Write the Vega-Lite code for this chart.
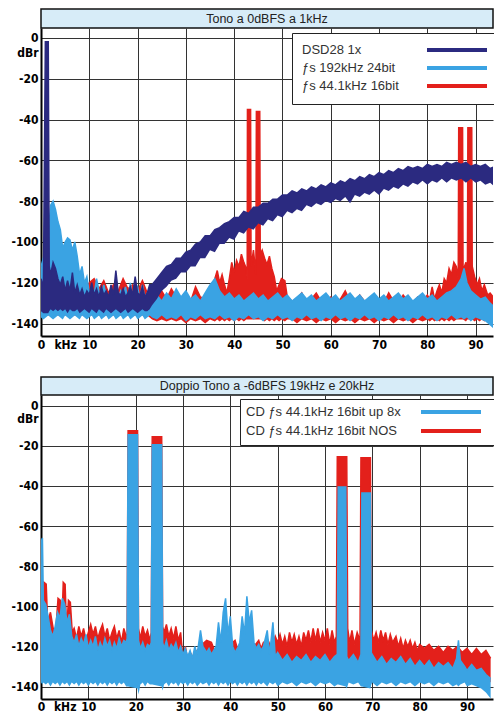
{
  "$schema": "https://vega.github.io/schema/vega-lite/v6.json",
  "background": "white",
  "padding": {"left": 0, "top": 8, "right": 0, "bottom": 0},
  "config": {
    "view": {"stroke": null},
    "axis": {"domainColor": "black", "domainWidth": 2, "ticks": false, "grid": true, "gridColor": "#333", "gridWidth": 1, "labelFont": "DejaVu Sans Condensed", "labelFontWeight": "bold", "labelFontSize": 12, "labelColor": "black", "title": null, "labelOverlap": false, "labelFlush": false},
    "legend": {"orient": "none", "title": null, "symbolType": "M-6,0H6", "symbolSize": 100, "symbolStrokeWidth": 4, "fillColor": "white", "strokeColor": "#222", "labelFont": "Liberation Sans", "labelFontSize": 13, "labelColor": "#333", "labelLimit": 400}
  },
  "datasets": {
    "topN": [
      {"f":0,"hi":-118,"lo":-134},{"f":0.5,"hi":-122,"lo":-135},{"f":0.9,"hi":-1.8,"lo":-135},{"f":1.5,"hi":-1.8,"lo":-135},{"f":1.7,"hi":-112,"lo":-134},{"f":2,"hi":-116,"lo":-133},{"f":2.5,"hi":-110,"lo":-134},{"f":3,"hi":-113,"lo":-133},{"f":3.5,"hi":-118,"lo":-134},{"f":4,"hi":-121,"lo":-133},{"f":4.5,"hi":-117,"lo":-134},{"f":5,"hi":-124,"lo":-133},{"f":5.5,"hi":-119,"lo":-135},{"f":6,"hi":-124,"lo":-133},{"f":6.5,"hi":-115,"lo":-134},{"f":7,"hi":-125,"lo":-134},{"f":7.5,"hi":-121,"lo":-133},{"f":8,"hi":-126,"lo":-135},{"f":8.5,"hi":-123,"lo":-134},{"f":9,"hi":-127,"lo":-133},{"f":9.5,"hi":-124,"lo":-134},{"f":10,"hi":-126,"lo":-135},{"f":10.5,"hi":-120,"lo":-133},{"f":11,"hi":-126,"lo":-134},{"f":11.5,"hi":-123,"lo":-135},{"f":12,"hi":-127,"lo":-133},{"f":12.5,"hi":-122,"lo":-134},{"f":13,"hi":-126,"lo":-135},{"f":13.5,"hi":-124,"lo":-133},{"f":14,"hi":-127,"lo":-134},{"f":14.5,"hi":-121,"lo":-135},{"f":15,"hi":-126,"lo":-134},{"f":15.5,"hi":-114,"lo":-133},{"f":16,"hi":-125,"lo":-134},{"f":16.5,"hi":-126,"lo":-135},{"f":17,"hi":-123,"lo":-134},{"f":17.5,"hi":-127,"lo":-133},{"f":18,"hi":-125,"lo":-135},{"f":18.5,"hi":-122,"lo":-134},{"f":19,"hi":-126,"lo":-133},{"f":19.5,"hi":-117,"lo":-134},{"f":20,"hi":-125,"lo":-135},{"f":20.5,"hi":-126,"lo":-134},{"f":21,"hi":-122,"lo":-133},{"f":21.5,"hi":-127,"lo":-134},{"f":22,"hi":-125,"lo":-134},{"f":22.5,"hi":-121,"lo":-133},
      {"f":23,"hi":-121,"lo":-131},{"f":24,"hi":-118,"lo":-128},{"f":25,"hi":-115,"lo":-124},{"f":26,"hi":-112,"lo":-122},{"f":27,"hi":-111,"lo":-119},{"f":28,"hi":-108,"lo":-118},{"f":29,"hi":-108,"lo":-115},{"f":30,"hi":-105,"lo":-115},{"f":31,"hi":-104,"lo":-112},{"f":32,"hi":-101,"lo":-112},{"f":33,"hi":-100,"lo":-108},{"f":34,"hi":-97,"lo":-108},{"f":35,"hi":-97,"lo":-104},{"f":36,"hi":-94,"lo":-105},{"f":37,"hi":-93,"lo":-101},{"f":38,"hi":-91,"lo":-101},{"f":39,"hi":-90,"lo":-98},{"f":40,"hi":-88,"lo":-99},{"f":41,"hi":-88,"lo":-95},{"f":42,"hi":-85,"lo":-96},{"f":43,"hi":-86,"lo":-93},{"f":44,"hi":-83,"lo":-94},{"f":45,"hi":-83,"lo":-91},{"f":46,"hi":-81,"lo":-92},{"f":47,"hi":-81,"lo":-89},{"f":48,"hi":-79,"lo":-90},{"f":49,"hi":-79,"lo":-87},{"f":50,"hi":-77,"lo":-88},{"f":51,"hi":-77,"lo":-85},{"f":52,"hi":-75,"lo":-86},{"f":53,"hi":-76,"lo":-84},{"f":54,"hi":-74,"lo":-85},{"f":55,"hi":-75,"lo":-82},{"f":56,"hi":-73,"lo":-83},{"f":57,"hi":-74,"lo":-81},{"f":58,"hi":-72,"lo":-82},{"f":59,"hi":-73,"lo":-80},{"f":60,"hi":-71,"lo":-81},{"f":61,"hi":-72,"lo":-79},{"f":62,"hi":-70,"lo":-80},{"f":63,"hi":-71,"lo":-78},{"f":64,"hi":-69,"lo":-81},{"f":65,"hi":-70,"lo":-77},{"f":66,"hi":-68,"lo":-78},{"f":67,"hi":-69,"lo":-76},{"f":68,"hi":-67,"lo":-77},{"f":69,"hi":-68,"lo":-75},{"f":70,"hi":-66,"lo":-77},{"f":71,"hi":-67,"lo":-74},{"f":72,"hi":-65,"lo":-75},{"f":73,"hi":-66,"lo":-73},{"f":74,"hi":-64,"lo":-74},{"f":75,"hi":-65,"lo":-72},{"f":76,"hi":-63,"lo":-73},{"f":77,"hi":-64,"lo":-71},{"f":78,"hi":-63,"lo":-72},{"f":79,"hi":-64,"lo":-70},{"f":80,"hi":-62,"lo":-72},{"f":81,"hi":-63,"lo":-70},{"f":82,"hi":-62,"lo":-71},{"f":83,"hi":-63,"lo":-69},{"f":84,"hi":-61,"lo":-71},{"f":85,"hi":-62,"lo":-69},{"f":86,"hi":-61,"lo":-70},{"f":87,"hi":-62,"lo":-69},{"f":88,"hi":-61,"lo":-71},{"f":89,"hi":-63,"lo":-69},{"f":90,"hi":-62,"lo":-71},{"f":91,"hi":-63,"lo":-70},{"f":92,"hi":-62,"lo":-72},{"f":93,"hi":-64,"lo":-71},{"f":94,"hi":-63,"lo":-73}
    ],
    "topB": [
      {"f":0,"hi":-112,"lo":-137},{"f":0.5,"hi":-108,"lo":-138},{"f":1,"hi":-100,"lo":-137},{"f":1.5,"hi":-96,"lo":-136},{"f":2,"hi":-82,"lo":-137},{"f":2.5,"hi":-80,"lo":-138},{"f":3,"hi":-84,"lo":-137},{"f":3.5,"hi":-90,"lo":-136},{"f":4,"hi":-94,"lo":-137},{"f":4.5,"hi":-103,"lo":-138},{"f":5,"hi":-100,"lo":-136},{"f":5.5,"hi":-98,"lo":-137},{"f":6,"hi":-99,"lo":-138},{"f":6.5,"hi":-104,"lo":-137},{"f":7,"hi":-100,"lo":-136},{"f":7.5,"hi":-107,"lo":-137},{"f":8,"hi":-116,"lo":-138},{"f":8.5,"hi":-112,"lo":-136},{"f":9,"hi":-120,"lo":-137},{"f":9.5,"hi":-117,"lo":-138},{"f":10,"hi":-125,"lo":-137},{"f":10.5,"hi":-122,"lo":-136},{"f":11,"hi":-126,"lo":-138},{"f":11.5,"hi":-118,"lo":-137},{"f":12,"hi":-124,"lo":-136},{"f":12.5,"hi":-127,"lo":-138},{"f":13,"hi":-121,"lo":-137},{"f":13.5,"hi":-126,"lo":-136},{"f":14,"hi":-128,"lo":-138},{"f":14.5,"hi":-123,"lo":-137},{"f":15,"hi":-127,"lo":-136},{"f":15.5,"hi":-120,"lo":-138},{"f":16,"hi":-128,"lo":-137},{"f":16.5,"hi":-124,"lo":-136},{"f":17,"hi":-127,"lo":-138},{"f":17.5,"hi":-122,"lo":-137},{"f":18,"hi":-128,"lo":-136},{"f":18.5,"hi":-120,"lo":-138},{"f":19,"hi":-127,"lo":-137},{"f":19.5,"hi":-124,"lo":-136},{"f":20,"hi":-122,"lo":-138},{"f":20.5,"hi":-128,"lo":-137},{"f":21,"hi":-121,"lo":-136},{"f":21.5,"hi":-127,"lo":-138},{"f":22,"hi":-125,"lo":-137},{"f":22.5,"hi":-128,"lo":-136},
      {"f":23,"hi":-128,"lo":-137},{"f":24,"hi":-126,"lo":-138},{"f":25,"hi":-129,"lo":-136},{"f":26,"hi":-125,"lo":-138},{"f":27,"hi":-128,"lo":-137},{"f":28,"hi":-123,"lo":-138},{"f":29,"hi":-127,"lo":-136},{"f":30,"hi":-124,"lo":-139},{"f":31,"hi":-128,"lo":-137},{"f":32,"hi":-126,"lo":-138},{"f":33,"hi":-129,"lo":-136},{"f":34,"hi":-125,"lo":-138},{"f":35,"hi":-121,"lo":-137},{"f":36,"hi":-118,"lo":-138},{"f":37,"hi":-124,"lo":-136},{"f":38,"hi":-127,"lo":-138},{"f":39,"hi":-125,"lo":-137},{"f":40,"hi":-128,"lo":-139},{"f":41,"hi":-126,"lo":-137},{"f":42,"hi":-129,"lo":-138},{"f":43,"hi":-127,"lo":-136},{"f":44,"hi":-125,"lo":-138},{"f":45,"hi":-128,"lo":-137},{"f":46,"hi":-126,"lo":-139},{"f":47,"hi":-129,"lo":-137},{"f":48,"hi":-127,"lo":-138},{"f":49,"hi":-125,"lo":-136},{"f":50,"hi":-128,"lo":-138},{"f":51,"hi":-126,"lo":-137},{"f":52,"hi":-129,"lo":-139},{"f":53,"hi":-127,"lo":-137},{"f":54,"hi":-125,"lo":-138},{"f":55,"hi":-128,"lo":-136},{"f":56,"hi":-126,"lo":-138},{"f":57,"hi":-129,"lo":-137},{"f":58,"hi":-127,"lo":-139},{"f":59,"hi":-125,"lo":-137},{"f":60,"hi":-128,"lo":-138},{"f":61,"hi":-126,"lo":-136},{"f":62,"hi":-129,"lo":-138},{"f":63,"hi":-127,"lo":-137},{"f":64,"hi":-125,"lo":-139},{"f":65,"hi":-128,"lo":-137},{"f":66,"hi":-126,"lo":-138},{"f":67,"hi":-129,"lo":-136},{"f":68,"hi":-127,"lo":-138},{"f":69,"hi":-125,"lo":-137},{"f":70,"hi":-128,"lo":-139},{"f":71,"hi":-126,"lo":-137},{"f":72,"hi":-129,"lo":-138},{"f":73,"hi":-127,"lo":-136},{"f":74,"hi":-125,"lo":-138},{"f":75,"hi":-128,"lo":-137},{"f":76,"hi":-126,"lo":-139},{"f":77,"hi":-129,"lo":-137},{"f":78,"hi":-127,"lo":-138},{"f":79,"hi":-125,"lo":-136},{"f":80,"hi":-128,"lo":-138},{"f":81,"hi":-126,"lo":-137},{"f":82,"hi":-129,"lo":-139},{"f":83,"hi":-127,"lo":-137},{"f":84,"hi":-125,"lo":-138},{"f":85,"hi":-124,"lo":-136},{"f":86,"hi":-122,"lo":-138},{"f":87,"hi":-118,"lo":-137},{"f":87.6,"hi":-113,"lo":-138},{"f":88.2,"hi":-120,"lo":-137},{"f":89,"hi":-124,"lo":-139},{"f":90,"hi":-126,"lo":-137},{"f":91,"hi":-128,"lo":-138},{"f":92,"hi":-127,"lo":-139},{"f":93,"hi":-130,"lo":-141},{"f":94,"hi":-132,"lo":-143}
    ],
    "topR": [
      {"f":0,"hi":-125,"lo":-136},{"f":1,"hi":-124,"lo":-136},{"f":2,"hi":-126,"lo":-136},{"f":3,"hi":-123,"lo":-136},{"f":4,"hi":-125,"lo":-136},{"f":5,"hi":-124,"lo":-136},{"f":6,"hi":-126,"lo":-136},{"f":7,"hi":-122,"lo":-136},{"f":8,"hi":-118,"lo":-136},{"f":9,"hi":-124,"lo":-136},{"f":10,"hi":-120,"lo":-136},{"f":11,"hi":-118,"lo":-136},{"f":12,"hi":-123,"lo":-136},{"f":13,"hi":-119,"lo":-136},{"f":14,"hi":-125,"lo":-136},{"f":15,"hi":-121,"lo":-136},{"f":16,"hi":-124,"lo":-136},{"f":17,"hi":-118,"lo":-136},{"f":18,"hi":-123,"lo":-136},{"f":19,"hi":-121,"lo":-136},{"f":20,"hi":-124,"lo":-136},{"f":21,"hi":-119,"lo":-136},{"f":22,"hi":-125,"lo":-136},
      {"f":23,"hi":-127,"lo":-138},{"f":24,"hi":-128,"lo":-139},{"f":25,"hi":-124,"lo":-138},{"f":26,"hi":-128,"lo":-139},{"f":27,"hi":-123,"lo":-138},{"f":28,"hi":-127,"lo":-139},{"f":29,"hi":-128,"lo":-138},{"f":30,"hi":-126,"lo":-140},{"f":31,"hi":-129,"lo":-138},{"f":32,"hi":-122,"lo":-139},{"f":33,"hi":-127,"lo":-138},{"f":34,"hi":-128,"lo":-140},{"f":35,"hi":-125,"lo":-138},{"f":36,"hi":-118,"lo":-139},{"f":36.5,"hi":-114,"lo":-138},{"f":37,"hi":-120,"lo":-139},{"f":37.5,"hi":-116,"lo":-138},{"f":38,"hi":-121,"lo":-139},{"f":38.5,"hi":-125,"lo":-138},{"f":39,"hi":-118,"lo":-139},{"f":39.5,"hi":-110,"lo":-138},{"f":40,"hi":-115,"lo":-139},{"f":40.5,"hi":-109,"lo":-138},{"f":41,"hi":-112,"lo":-139},{"f":41.5,"hi":-106,"lo":-138},{"f":42,"hi":-110,"lo":-139},{"f":42.5,"hi":-113,"lo":-138},{"f":42.7,"hi":-118,"lo":-138},{"f":42.75,"hi":-35,"lo":-138},{"f":43.4,"hi":-35,"lo":-138},{"f":43.5,"hi":-112,"lo":-138},{"f":44,"hi":-104,"lo":-138},{"f":44.5,"hi":-116,"lo":-138},{"f":44.6,"hi":-36,"lo":-138},{"f":45.3,"hi":-36,"lo":-138},{"f":45.4,"hi":-106,"lo":-138},{"f":45.8,"hi":-104,"lo":-138},{"f":46.3,"hi":-108,"lo":-139},{"f":46.8,"hi":-111,"lo":-138},{"f":47.3,"hi":-107,"lo":-139},{"f":47.8,"hi":-113,"lo":-138},{"f":48.3,"hi":-117,"lo":-139},{"f":48.8,"hi":-124,"lo":-138},{"f":49.3,"hi":-121,"lo":-139},{"f":49.8,"hi":-118,"lo":-138},{"f":50.5,"hi":-119,"lo":-139},{"f":51,"hi":-127,"lo":-138},{"f":52,"hi":-129,"lo":-138},{"f":53,"hi":-128,"lo":-140},{"f":54,"hi":-125,"lo":-138},{"f":55,"hi":-130,"lo":-139},{"f":56,"hi":-128,"lo":-138},{"f":57,"hi":-125,"lo":-140},{"f":58,"hi":-129,"lo":-138},{"f":59,"hi":-130,"lo":-139},{"f":60,"hi":-127,"lo":-138},{"f":61,"hi":-129,"lo":-140},{"f":62,"hi":-128,"lo":-138},{"f":63,"hi":-124,"lo":-139},{"f":64,"hi":-129,"lo":-138},{"f":65,"hi":-130,"lo":-140},{"f":66,"hi":-126,"lo":-138},{"f":67,"hi":-129,"lo":-139},{"f":68,"hi":-130,"lo":-138},{"f":69,"hi":-127,"lo":-140},{"f":70,"hi":-129,"lo":-138},{"f":71,"hi":-130,"lo":-139},{"f":72,"hi":-125,"lo":-138},{"f":73,"hi":-129,"lo":-140},{"f":74,"hi":-130,"lo":-138},{"f":75,"hi":-126,"lo":-139},{"f":76,"hi":-129,"lo":-138},{"f":77,"hi":-130,"lo":-140},{"f":78,"hi":-127,"lo":-138},{"f":79,"hi":-129,"lo":-139},{"f":80,"hi":-126,"lo":-138},{"f":80.5,"hi":-128,"lo":-139},{"f":81,"hi":-122,"lo":-138},{"f":81.5,"hi":-128,"lo":-139},{"f":82,"hi":-124,"lo":-138},{"f":82.5,"hi":-121,"lo":-139},{"f":83,"hi":-125,"lo":-138},{"f":83.5,"hi":-118,"lo":-139},{"f":84,"hi":-120,"lo":-138},{"f":84.5,"hi":-113,"lo":-139},{"f":85,"hi":-116,"lo":-138},{"f":85.5,"hi":-110,"lo":-139},{"f":86,"hi":-112,"lo":-138},{"f":86.4,"hi":-118,"lo":-138},{"f":86.5,"hi":-44,"lo":-138},{"f":87.3,"hi":-44,"lo":-138},{"f":87.4,"hi":-114,"lo":-138},{"f":88,"hi":-110,"lo":-139},{"f":88.3,"hi":-117,"lo":-138},{"f":88.4,"hi":-44,"lo":-138},{"f":89.2,"hi":-44,"lo":-138},{"f":89.3,"hi":-112,"lo":-138},{"f":89.8,"hi":-117,"lo":-139},{"f":90.3,"hi":-121,"lo":-138},{"f":90.8,"hi":-118,"lo":-139},{"f":91.3,"hi":-124,"lo":-138},{"f":91.8,"hi":-121,"lo":-139},{"f":92.5,"hi":-126,"lo":-138},{"f":93,"hi":-125,"lo":-139},{"f":94,"hi":-128,"lo":-140}
    ],
    "botB": [
      {"f":0,"hi":-68,"lo":-138},{"f":0.3,"hi":-66,"lo":-139},{"f":0.5,"hi":-97,"lo":-138},{"f":1,"hi":-99,"lo":-139},{"f":1.5,"hi":-105,"lo":-138},{"f":2,"hi":-112,"lo":-140},{"f":2.5,"hi":-115,"lo":-138},{"f":3,"hi":-110,"lo":-139},{"f":3.5,"hi":-103,"lo":-138},{"f":4,"hi":-106,"lo":-140},{"f":4.5,"hi":-96,"lo":-138},{"f":5,"hi":-99,"lo":-139},{"f":5.5,"hi":-108,"lo":-138},{"f":6,"hi":-104,"lo":-140},{"f":6.5,"hi":-115,"lo":-138},{"f":7,"hi":-118,"lo":-139},{"f":7.5,"hi":-114,"lo":-138},{"f":8,"hi":-120,"lo":-140},{"f":8.5,"hi":-116,"lo":-138},{"f":9,"hi":-119,"lo":-139},{"f":9.5,"hi":-114,"lo":-138},{"f":10,"hi":-121,"lo":-140},{"f":10.5,"hi":-117,"lo":-138},{"f":11,"hi":-120,"lo":-139},{"f":11.5,"hi":-115,"lo":-138},{"f":12,"hi":-122,"lo":-140},{"f":12.5,"hi":-118,"lo":-138},{"f":13,"hi":-121,"lo":-139},{"f":13.5,"hi":-116,"lo":-138},{"f":14,"hi":-120,"lo":-140},{"f":14.5,"hi":-117,"lo":-138},{"f":15,"hi":-122,"lo":-139},{"f":15.5,"hi":-118,"lo":-138},{"f":16,"hi":-121,"lo":-140},{"f":16.5,"hi":-116,"lo":-138},{"f":17,"hi":-120,"lo":-139},{"f":17.5,"hi":-117,"lo":-138},{"f":18,"hi":-118,"lo":-140},{"f":18.2,"hi":-116,"lo":-140},{"f":18.4,"hi":-14.5,"lo":-140},{"f":20.4,"hi":-14.5,"lo":-141},{"f":20.6,"hi":-117,"lo":-144},{"f":21,"hi":-121,"lo":-139},{"f":21.5,"hi":-118,"lo":-138},{"f":22,"hi":-122,"lo":-140},{"f":22.5,"hi":-119,"lo":-138},{"f":23,"hi":-120,"lo":-139},{"f":23.3,"hi":-118,"lo":-139},{"f":23.5,"hi":-19.5,"lo":-139},{"f":25.5,"hi":-19.5,"lo":-140},{"f":25.7,"hi":-118,"lo":-142},{"f":26,"hi":-121,"lo":-139},{"f":26.5,"hi":-117,"lo":-138},{"f":27,"hi":-122,"lo":-140},{"f":27.5,"hi":-119,"lo":-138},{"f":28,"hi":-121,"lo":-139},{"f":28.5,"hi":-118,"lo":-138},{"f":29,"hi":-123,"lo":-140},{"f":29.5,"hi":-120,"lo":-138},{"f":30,"hi":-124,"lo":-139},{"f":30.5,"hi":-121,"lo":-138},{"f":31,"hi":-125,"lo":-140},{"f":31.5,"hi":-122,"lo":-138},{"f":32,"hi":-126,"lo":-139},{"f":32.5,"hi":-120,"lo":-138},{"f":33,"hi":-124,"lo":-140},{"f":33.7,"hi":-112,"lo":-138},{"f":34.2,"hi":-120,"lo":-139},{"f":35,"hi":-123,"lo":-138},{"f":35.5,"hi":-121,"lo":-140},{"f":36,"hi":-124,"lo":-138},{"f":36.5,"hi":-122,"lo":-139},{"f":37,"hi":-120,"lo":-138},{"f":37.5,"hi":-108,"lo":-140},{"f":38,"hi":-118,"lo":-138},{"f":38.5,"hi":-103,"lo":-139},{"f":39,"hi":-96,"lo":-138},{"f":39.5,"hi":-114,"lo":-140},{"f":40,"hi":-105,"lo":-138},{"f":40.5,"hi":-120,"lo":-139},{"f":41,"hi":-123,"lo":-138},{"f":41.5,"hi":-121,"lo":-140},{"f":42,"hi":-118,"lo":-138},{"f":42.5,"hi":-105,"lo":-139},{"f":43,"hi":-114,"lo":-138},{"f":43.5,"hi":-95,"lo":-140},{"f":44,"hi":-108,"lo":-138},{"f":44.5,"hi":-102,"lo":-139},{"f":45,"hi":-118,"lo":-138},{"f":45.5,"hi":-121,"lo":-140},{"f":46,"hi":-119,"lo":-138},{"f":46.5,"hi":-122,"lo":-139},{"f":47,"hi":-120,"lo":-138},{"f":47.8,"hi":-112,"lo":-140},{"f":48.3,"hi":-124,"lo":-138},{"f":49,"hi":-108,"lo":-139},{"f":49.5,"hi":-125,"lo":-138},{"f":50,"hi":-123,"lo":-140},{"f":51,"hi":-127,"lo":-138},{"f":52,"hi":-124,"lo":-139},{"f":53,"hi":-128,"lo":-138},{"f":54,"hi":-125,"lo":-140},{"f":55,"hi":-127,"lo":-138},{"f":56,"hi":-124,"lo":-139},{"f":57,"hi":-128,"lo":-138},{"f":58,"hi":-125,"lo":-140},{"f":59,"hi":-127,"lo":-138},{"f":60,"hi":-124,"lo":-139},{"f":61,"hi":-128,"lo":-138},{"f":62,"hi":-125,"lo":-140},{"f":62.6,"hi":-124,"lo":-139},{"f":62.8,"hi":-40.5,"lo":-139},{"f":64.4,"hi":-40.5,"lo":-140},{"f":64.6,"hi":-125,"lo":-141},{"f":65,"hi":-127,"lo":-138},{"f":66,"hi":-124,"lo":-139},{"f":67,"hi":-128,"lo":-138},{"f":67.6,"hi":-124,"lo":-140},{"f":67.8,"hi":-43.5,"lo":-140},{"f":69.6,"hi":-43.5,"lo":-141},{"f":69.8,"hi":-126,"lo":-139},{"f":70,"hi":-124,"lo":-138},{"f":71,"hi":-128,"lo":-140},{"f":72,"hi":-125,"lo":-138},{"f":73,"hi":-129,"lo":-139},{"f":74,"hi":-126,"lo":-138},{"f":75,"hi":-128,"lo":-140},{"f":76,"hi":-125,"lo":-138},{"f":77,"hi":-129,"lo":-139},{"f":78,"hi":-126,"lo":-138},{"f":79,"hi":-130,"lo":-140},{"f":80,"hi":-127,"lo":-138},{"f":81,"hi":-130,"lo":-139},{"f":82,"hi":-127,"lo":-138},{"f":83,"hi":-131,"lo":-140},{"f":84,"hi":-128,"lo":-138},{"f":85,"hi":-130,"lo":-139},{"f":86,"hi":-128,"lo":-138},{"f":87,"hi":-131,"lo":-140},{"f":87.8,"hi":-126,"lo":-139},{"f":88.2,"hi":-117,"lo":-140},{"f":88.6,"hi":-127,"lo":-139},{"f":89.5,"hi":-130,"lo":-138},{"f":90,"hi":-132,"lo":-140},{"f":91,"hi":-129,"lo":-139},{"f":92,"hi":-132,"lo":-140},{"f":93,"hi":-131,"lo":-141},{"f":94,"hi":-134,"lo":-143},{"f":95,"hi":-136,"lo":-146}
    ],
    "botR": [
      {"f":0,"hi":-100,"lo":-135},{"f":0.6,"hi":-88,"lo":-135},{"f":1.1,"hi":-89,"lo":-135},{"f":1.4,"hi":-108,"lo":-135},{"f":2,"hi":-103,"lo":-135},{"f":2.5,"hi":-110,"lo":-135},{"f":3,"hi":-116,"lo":-135},{"f":3.6,"hi":-96,"lo":-135},{"f":4.1,"hi":-97,"lo":-135},{"f":4.4,"hi":-110,"lo":-135},{"f":4.7,"hi":-88,"lo":-135},{"f":5.1,"hi":-89,"lo":-135},{"f":5.4,"hi":-112,"lo":-135},{"f":5.8,"hi":-97,"lo":-135},{"f":6.2,"hi":-98,"lo":-135},{"f":6.6,"hi":-113,"lo":-135},{"f":7,"hi":-111,"lo":-135},{"f":7.5,"hi":-116,"lo":-135},{"f":8,"hi":-110,"lo":-135},{"f":8.5,"hi":-115,"lo":-135},{"f":9,"hi":-111,"lo":-135},{"f":9.5,"hi":-117,"lo":-135},{"f":10,"hi":-113,"lo":-135},{"f":10.5,"hi":-109,"lo":-135},{"f":11,"hi":-114,"lo":-135},{"f":11.5,"hi":-110,"lo":-135},{"f":12,"hi":-116,"lo":-135},{"f":12.5,"hi":-112,"lo":-135},{"f":13,"hi":-109,"lo":-135},{"f":13.5,"hi":-115,"lo":-135},{"f":14,"hi":-111,"lo":-135},{"f":14.5,"hi":-117,"lo":-135},{"f":15,"hi":-113,"lo":-135},{"f":15.5,"hi":-110,"lo":-135},{"f":16,"hi":-116,"lo":-135},{"f":16.5,"hi":-112,"lo":-135},{"f":17,"hi":-118,"lo":-135},{"f":17.5,"hi":-111,"lo":-135},{"f":18,"hi":-115,"lo":-135},{"f":18.2,"hi":-114,"lo":-135},{"f":18.4,"hi":-12.5,"lo":-135},{"f":20.4,"hi":-12.5,"lo":-135},{"f":20.6,"hi":-111,"lo":-135},{"f":21,"hi":-116,"lo":-135},{"f":21.5,"hi":-110,"lo":-135},{"f":22,"hi":-115,"lo":-135},{"f":22.5,"hi":-112,"lo":-135},{"f":23,"hi":-117,"lo":-135},{"f":23.3,"hi":-113,"lo":-135},{"f":23.5,"hi":-15.5,"lo":-135},{"f":25.5,"hi":-15.5,"lo":-135},{"f":25.7,"hi":-110,"lo":-135},{"f":26,"hi":-113,"lo":-135},{"f":26.5,"hi":-109,"lo":-135},{"f":27,"hi":-115,"lo":-135},{"f":27.5,"hi":-111,"lo":-135},{"f":28,"hi":-116,"lo":-135},{"f":28.5,"hi":-110,"lo":-135},{"f":29,"hi":-117,"lo":-135},{"f":29.5,"hi":-113,"lo":-135},{"f":30,"hi":-126,"lo":-135},{"f":30.5,"hi":-120,"lo":-135},{"f":31,"hi":-127,"lo":-135},{"f":31.5,"hi":-123,"lo":-135},{"f":32,"hi":-125,"lo":-135},{"f":33,"hi":-122,"lo":-135},{"f":34,"hi":-119,"lo":-135},{"f":35,"hi":-117,"lo":-135},{"f":36,"hi":-118,"lo":-135},{"f":37,"hi":-124,"lo":-135},{"f":38,"hi":-121,"lo":-135},{"f":39,"hi":-125,"lo":-135},{"f":40,"hi":-122,"lo":-135},{"f":40.5,"hi":-118,"lo":-135},{"f":41,"hi":-117,"lo":-135},{"f":41.5,"hi":-121,"lo":-135},{"f":42,"hi":-119,"lo":-135},{"f":43,"hi":-124,"lo":-135},{"f":44,"hi":-122,"lo":-135},{"f":45,"hi":-120,"lo":-135},{"f":46,"hi":-117,"lo":-135},{"f":46.5,"hi":-121,"lo":-135},{"f":47,"hi":-118,"lo":-135},{"f":48,"hi":-117,"lo":-135},{"f":48.5,"hi":-120,"lo":-135},{"f":49,"hi":-119,"lo":-135},{"f":49.5,"hi":-115,"lo":-135},{"f":50,"hi":-118,"lo":-135},{"f":50.5,"hi":-114,"lo":-135},{"f":51,"hi":-119,"lo":-135},{"f":51.5,"hi":-115,"lo":-135},{"f":52,"hi":-120,"lo":-135},{"f":52.5,"hi":-113,"lo":-135},{"f":53,"hi":-118,"lo":-135},{"f":53.5,"hi":-114,"lo":-135},{"f":54,"hi":-119,"lo":-135},{"f":54.5,"hi":-115,"lo":-135},{"f":55,"hi":-120,"lo":-135},{"f":55.5,"hi":-113,"lo":-135},{"f":56,"hi":-117,"lo":-135},{"f":56.5,"hi":-112,"lo":-135},{"f":57,"hi":-118,"lo":-135},{"f":57.5,"hi":-111,"lo":-135},{"f":58,"hi":-117,"lo":-135},{"f":58.5,"hi":-111,"lo":-135},{"f":59,"hi":-118,"lo":-135},{"f":59.5,"hi":-113,"lo":-135},{"f":60,"hi":-117,"lo":-135},{"f":60.5,"hi":-111,"lo":-135},{"f":61,"hi":-119,"lo":-135},{"f":61.5,"hi":-112,"lo":-135},{"f":62,"hi":-118,"lo":-135},{"f":62.4,"hi":-115,"lo":-135},{"f":62.6,"hi":-25.5,"lo":-135},{"f":64.6,"hi":-25.5,"lo":-135},{"f":64.8,"hi":-111,"lo":-135},{"f":65.2,"hi":-118,"lo":-135},{"f":65.7,"hi":-112,"lo":-135},{"f":66.2,"hi":-119,"lo":-135},{"f":66.8,"hi":-113,"lo":-135},{"f":67.4,"hi":-117,"lo":-135},{"f":67.6,"hi":-26,"lo":-135},{"f":69.6,"hi":-26,"lo":-135},{"f":69.8,"hi":-112,"lo":-135},{"f":70.3,"hi":-117,"lo":-135},{"f":70.8,"hi":-113,"lo":-135},{"f":71.3,"hi":-118,"lo":-135},{"f":71.8,"hi":-112,"lo":-135},{"f":72.3,"hi":-117,"lo":-135},{"f":72.8,"hi":-113,"lo":-135},{"f":73.3,"hi":-119,"lo":-135},{"f":73.8,"hi":-114,"lo":-135},{"f":74.3,"hi":-118,"lo":-135},{"f":75,"hi":-115,"lo":-135},{"f":75.5,"hi":-120,"lo":-135},{"f":76,"hi":-116,"lo":-135},{"f":76.5,"hi":-121,"lo":-135},{"f":77,"hi":-117,"lo":-135},{"f":77.5,"hi":-120,"lo":-135},{"f":78,"hi":-117,"lo":-135},{"f":78.5,"hi":-121,"lo":-135},{"f":79,"hi":-118,"lo":-135},{"f":79.5,"hi":-122,"lo":-135},{"f":80,"hi":-119,"lo":-135},{"f":81,"hi":-121,"lo":-135},{"f":82,"hi":-119,"lo":-135},{"f":83,"hi":-122,"lo":-135},{"f":84,"hi":-120,"lo":-135},{"f":85,"hi":-123,"lo":-135},{"f":86,"hi":-120,"lo":-135},{"f":87,"hi":-122,"lo":-135},{"f":88,"hi":-120,"lo":-135},{"f":89,"hi":-123,"lo":-135},{"f":90,"hi":-121,"lo":-135},{"f":91,"hi":-124,"lo":-135},{"f":92,"hi":-121,"lo":-135},{"f":93,"hi":-124,"lo":-135},{"f":94,"hi":-122,"lo":-135},{"f":95,"hi":-126,"lo":-138}
    ]
  },
  "spacing": 26,
  "bounds": "full",
  "resolve": {"scale": {"stroke": "independent"}, "legend": {"stroke": "independent"}},
  "vconcat": [
    {
      "spacing": 0,
      "bounds": "flush",
      "resolve": {"scale": {"stroke": "independent"}, "legend": {"stroke": "independent"}},
      "vconcat": [
        {
          "width": 452, "height": 19,
          "view": {"fill": "#d7ecf8", "stroke": "#111", "strokeWidth": 1.5},
          "data": {"values": [{"t": "Tono a 0dBFS a 1kHz"}]},
          "mark": {"type": "text", "font": "Liberation Sans", "fontSize": 12.5, "color": "#222"},
          "encoding": {"text": {"field": "t", "type": "nominal"}}
        },
        {
          "width": 452, "height": 308,
          "encoding": {
            "x": {"field": "f", "type": "quantitative", "scale": {"domain": [0, 93.6], "nice": false, "zero": false},
              "axis": {"values": [0,5,10,20,30,40,50,60,70,80,90], "labelExpr": "datum.value == 5 ? 'kHz' : '' + datum.value", "gridOpacity": {"condition": {"test": "datum.value < 8", "value": 0}, "value": 1}, "labelPadding": 3}},
            "y": {"field": "hi", "type": "quantitative", "scale": {"domain": [-146.1, 4.9], "nice": false, "zero": false},
              "axis": {"values": [0,-7,-20,-40,-60,-80,-100,-120,-140], "labelExpr": "datum.value == -7 ? 'dBr' : '' + datum.value", "gridOpacity": {"condition": {"test": "datum.value == -7", "value": 0}, "value": 1}, "minExtent": 41, "maxExtent": 41, "labelPadding": 3}}
          },
          "layer": [
            {"data": {"name": "topR"}, "mark": {"type": "area", "color": "#e3201b", "clip": true}, "encoding": {"y2": {"field": "lo"}}},
            {"data": {"name": "topR"}, "mark": {"type": "line", "strokeWidth": 1.5, "clip": true},
              "encoding": {"stroke": {"datum": "ƒs 44.1kHz 16bit", "type": "nominal",
                "scale": {"domain": ["DSD28 1x", "ƒs 192kHz 24bit", "ƒs 44.1kHz 16bit"], "range": ["#2b2a80", "#3aa3e3", "#e3201b"]},
                "legend": {"legendX": 251, "legendY": 5, "padding": 10, "symbolOffset": 148, "labelOffset": -162, "rowPadding": 2}}}},
            {"data": {"name": "topB"}, "mark": {"type": "area", "color": "#3aa3e3", "clip": true}, "encoding": {"y2": {"field": "lo"}}},
            {"data": {"name": "topB"}, "mark": {"type": "line", "strokeWidth": 1.5, "clip": true}, "encoding": {"stroke": {"datum": "ƒs 192kHz 24bit", "type": "nominal"}}},
            {"data": {"name": "topN"}, "mark": {"type": "area", "color": "#2b2a80", "clip": true}, "encoding": {"y2": {"field": "lo"}}},
            {"data": {"name": "topN"}, "mark": {"type": "line", "strokeWidth": 1.5, "clip": true}, "encoding": {"stroke": {"datum": "DSD28 1x", "type": "nominal"}}}
          ]
        }
      ]
    },
    {
      "spacing": 0,
      "bounds": "flush",
      "resolve": {"scale": {"stroke": "independent"}, "legend": {"stroke": "independent"}},
      "vconcat": [
        {
          "width": 452, "height": 18,
          "view": {"fill": "#d7ecf8", "stroke": "#111", "strokeWidth": 1.5},
          "data": {"values": [{"t": "Doppio Tono a -6dBFS 19kHz e 20kHz"}]},
          "mark": {"type": "text", "font": "Liberation Sans", "fontSize": 12.5, "color": "#222"},
          "encoding": {"text": {"field": "t", "type": "nominal"}}
        },
        {
          "width": 452, "height": 304,
          "encoding": {
            "x": {"field": "f", "type": "quantitative", "scale": {"domain": [0, 95.5], "nice": false, "zero": false},
              "axis": {"values": [0,5,10,20,30,40,50,60,70,80,90], "labelExpr": "datum.value == 5 ? 'kHz' : '' + datum.value", "gridOpacity": {"condition": {"test": "datum.value < 8", "value": 0}, "value": 1}, "labelPadding": 2}},
            "y": {"field": "hi", "type": "quantitative", "scale": {"domain": [-146.2, 5.3], "nice": false, "zero": false},
              "axis": {"values": [0,-6.5,-20,-40,-60,-80,-100,-120,-140], "labelExpr": "datum.value == -6.5 ? 'dBr' : '' + datum.value", "gridOpacity": {"condition": {"test": "datum.value == -6.5", "value": 0}, "value": 1}, "minExtent": 41, "maxExtent": 41, "labelPadding": 3}}
          },
          "layer": [
            {"data": {"name": "botR"}, "mark": {"type": "area", "color": "#e3201b", "clip": true}, "encoding": {"y2": {"field": "lo"}}},
            {"data": {"name": "botR"}, "mark": {"type": "line", "strokeWidth": 1.5, "clip": true},
              "encoding": {"stroke": {"datum": "CD ƒs 44.1kHz 16bit NOS", "type": "nominal",
                "scale": {"domain": ["CD ƒs 44.1kHz 16bit up 8x", "CD ƒs 44.1kHz 16bit NOS"], "range": ["#3aa3e3", "#e3201b"]},
                "legend": {"legendX": 199, "legendY": 4, "padding": 6, "symbolOffset": 198, "labelOffset": -212, "rowPadding": 3}}}},
            {"data": {"name": "botB"}, "mark": {"type": "area", "color": "#3aa3e3", "clip": true}, "encoding": {"y2": {"field": "lo"}}},
            {"data": {"name": "botB"}, "mark": {"type": "line", "strokeWidth": 1.5, "clip": true}, "encoding": {"stroke": {"datum": "CD ƒs 44.1kHz 16bit up 8x", "type": "nominal"}}}
          ]
        }
      ]
    }
  ]
}
